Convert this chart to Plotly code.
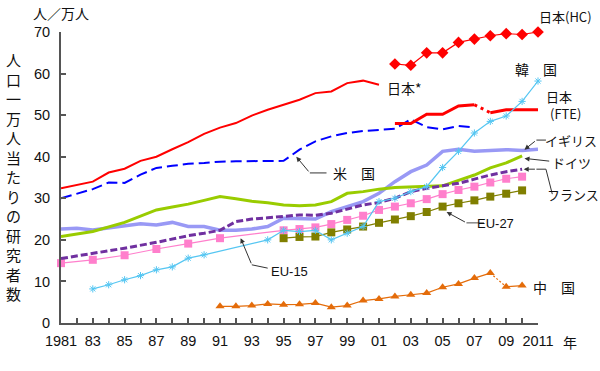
import plotly.graph_objects as go

# ---------------- data ----------------
jp_old_years = [1981, 1983, 1984, 1985, 1986, 1987, 1988, 1989, 1990, 1991, 1992, 1993,
                1994, 1995, 1996, 1997, 1998, 1999, 2000, 2001]
jp_old = [32.4, 34.0, 36.2, 37.1, 39.0, 40.0, 41.8, 43.5, 45.5, 47.0, 48.1, 49.9,
          51.3, 52.5, 53.7, 55.3, 55.7, 57.7, 58.3, 57.3]

jp_hc_years = list(range(2002, 2012))
jp_hc = [62.3, 62.0, 65.0, 65.0, 67.5, 68.3, 69.1, 69.6, 69.4, 70.0]

jp_fte_years = list(range(2002, 2012))
jp_fte = [48.0, 48.0, 50.2, 50.2, 52.2, 52.5, 50.6, 51.3, 51.3, 51.3]
jp_fte_break = 2007   # dotted between 2007 and 2008

us_years = [1981, 1983, 1984, 1985, 1986, 1987, 1988, 1989, 1990, 1991, 1992, 1993, 1994,
            1995, 1996, 1997, 1998, 1999, 2000, 2001, 2002, 2003, 2004, 2005, 2006, 2007]
us = [30.0, 32.2, 33.8, 33.7, 35.7, 37.3, 37.8, 38.3, 38.5, 38.8, 38.9, 38.9, 38.9,
      39.0, 41.7, 43.7, 44.9, 45.7, 46.2, 46.5, 46.7, 49.0, 47.1, 46.6, 47.4, 47.0]

kr_years = [1983, 1984, 1985, 1986, 1987, 1988, 1989, 1990, 1994, 1995, 1996, 1997, 1998,
            1999, 2000, 2001, 2002, 2003, 2004, 2005, 2006, 2007, 2008, 2009, 2010, 2011]
kr = [8.2, 9.2, 10.4, 11.4, 12.8, 13.5, 15.6, 16.4, 20.0, 22.3, 22.0, 22.3, 20.0,
      21.6, 23.2, 29.2, 30.0, 31.6, 32.8, 37.4, 41.3, 45.7, 48.5, 49.8, 53.3, 58.2]

uk_years = list(range(1981, 2012))
uk = [22.6, 22.8, 22.4, 22.9, 23.4, 23.9, 23.6, 24.2, 23.2, 23.2, 22.3, 22.3, 22.6, 23.2,
      25.2, 25.0, 25.0, 26.8, 28.0, 29.2, 31.2, 34.0, 36.4, 38.0, 41.3, 41.8, 41.3, 41.5,
      41.7, 41.5, 41.8]

de_years = [1981, 1983, 1985, 1987, 1988, 1989, 1990, 1991, 1992, 1993, 1994, 1995, 1996,
            1997, 1998, 1999, 2000, 2001, 2002, 2003, 2004, 2005, 2006, 2007, 2008, 2009, 2010]
de = [20.8, 22.0, 24.2, 27.2, 27.9, 28.6, 29.5, 30.4, 29.9, 29.3, 28.9, 28.4, 28.2,
      28.4, 29.2, 31.2, 31.6, 32.2, 32.6, 32.7, 32.8, 33.0, 34.3, 35.6, 37.3, 38.5, 40.2]

fr_years = [1981, 1983, 1985, 1987, 1989, 1990, 1991, 1992, 1993, 1994, 1995, 1996, 1997,
            1998, 1999, 2000, 2001, 2002, 2003, 2004, 2005, 2006, 2007, 2008, 2009, 2010]
fr = [15.5, 16.7, 18.0, 19.4, 21.0, 21.6, 22.3, 24.4, 25.0, 25.3, 25.6, 26.0, 25.9,
      26.4, 27.4, 28.4, 29.0, 30.0, 31.6, 32.4, 33.0, 33.6, 34.6, 35.6, 36.4, 37.0]

eu15_years = [1981, 1983, 1985, 1987, 1989, 1991, 1995, 1996, 1997, 1998, 1999, 2000,
              2001, 2002, 2003, 2004, 2005, 2006, 2007, 2008, 2009, 2010]
eu15 = [14.4, 15.2, 16.3, 17.8, 19.1, 20.4, 22.3, 22.6, 23.0, 23.8, 24.8, 25.8,
        27.2, 28.0, 28.8, 29.8, 31.0, 32.0, 32.8, 33.8, 34.7, 35.2]

eu27_years = list(range(1995, 2011))
eu27 = [20.4, 20.7, 20.8, 21.8, 22.5, 23.2, 24.1, 24.9, 25.7, 26.7, 28.0, 28.8,
        29.5, 30.4, 31.1, 31.9]

cn_years = list(range(1991, 2011))
cn = [4.0, 4.0, 4.2, 4.6, 4.4, 4.5, 4.8, 3.8, 4.2, 5.4, 5.8, 6.4, 6.8, 7.2,
      8.6, 9.4, 10.8, 12.0, 8.7, 9.0]
cn_break = 2008   # dotted between 2008 and 2009

x_tick_years = list(range(1981, 2012))
y_ticks = [0, 10, 20, 30, 40, 50, 60, 70]

# ---------------- styles ----------------
RED = "#FF0000"
BLUE = "#0000FF"
KR_C = "#55C6F2"
UK_C = "#9999F5"
DE_C = "#99CC00"
FR_C = "#7030A0"
PINK = "#FF7FCC"
OLIVE = "#807F00"
CN_C = "#E46C0A"
AX_C = "#555555"
TXT = "#111111"
FONT = "Liberation Sans, Arial, Noto Sans CJK JP, sans-serif"
JFONT = "Noto Sans CJK JP, sans-serif"

W, H = 600, 371
ML, MR, MT, MB = 61, 62, 32, 48
PW, PH = W - ML - MR, H - MT - MB

fig = go.Figure()


def split(years, vals, brk):
    i = years.index(brk)
    return (years[:i + 1], vals[:i + 1]), (years[i:i + 2], vals[i:i + 2]), (years[i + 1:], vals[i + 1:])


# Japan (old definition)
fig.add_trace(go.Scatter(x=jp_old_years, y=jp_old, mode="lines",
                         line=dict(color=RED, width=2), cliponaxis=False))
# US
fig.add_trace(go.Scatter(x=us_years, y=us, mode="lines",
                         line=dict(color=BLUE, width=2, dash="11px,5px"), cliponaxis=False))
# Japan HC
fig.add_trace(go.Scatter(x=jp_hc_years, y=jp_hc, mode="lines+markers",
                         line=dict(color=RED, width=1.2),
                         marker=dict(symbol="diamond", size=9, color=RED), cliponaxis=False))
# Japan FTE
a, b, c = split(jp_fte_years, jp_fte, jp_fte_break)
fig.add_trace(go.Scatter(x=a[0], y=a[1], mode="lines", line=dict(color=RED, width=3),
                         cliponaxis=False))
fig.add_trace(go.Scatter(x=b[0], y=b[1], mode="lines", line=dict(color=RED, width=3, dash="3px,4px"),
                         cliponaxis=False))
fig.add_trace(go.Scatter(x=c[0], y=c[1], mode="lines", line=dict(color=RED, width=3),
                         cliponaxis=False))
# UK
fig.add_trace(go.Scatter(x=uk_years, y=uk, mode="lines", line=dict(color=UK_C, width=3.5),
                         cliponaxis=False))
# Germany
fig.add_trace(go.Scatter(x=de_years, y=de, mode="lines", line=dict(color=DE_C, width=3),
                         cliponaxis=False))
# EU-15
fig.add_trace(go.Scatter(x=eu15_years, y=eu15, mode="lines+markers",
                         line=dict(color=PINK, width=1.2),
                         marker=dict(symbol="square", size=8, color=PINK), cliponaxis=False))
# EU-27
fig.add_trace(go.Scatter(x=eu27_years, y=eu27, mode="lines+markers",
                         line=dict(color=OLIVE, width=1.2),
                         marker=dict(symbol="square", size=8, color=OLIVE), cliponaxis=False))
# France
fig.add_trace(go.Scatter(x=fr_years, y=fr, mode="lines",
                         line=dict(color=FR_C, width=3, dash="7px,3px"), cliponaxis=False))
# Korea
fig.add_trace(go.Scatter(x=kr_years, y=kr, mode="lines+markers",
                         line=dict(color=KR_C, width=1.2),
                         marker=dict(symbol="asterisk-open", size=6,
                                     line=dict(color=KR_C, width=1)), cliponaxis=False))
# China
a, b, c = split(cn_years, cn, cn_break)
cn_marker = dict(symbol="triangle-up", size=8, color=CN_C)
fig.add_trace(go.Scatter(x=a[0], y=a[1], mode="lines+markers", line=dict(color=CN_C, width=1.2),
                         marker=cn_marker, cliponaxis=False))
fig.add_trace(go.Scatter(x=b[0], y=b[1], mode="lines", line=dict(color=CN_C, width=1.2, dash="2px,2px"),
                         cliponaxis=False))
fig.add_trace(go.Scatter(x=c[0], y=c[1], mode="lines+markers", line=dict(color=CN_C, width=1.2),
                         marker=cn_marker, cliponaxis=False))

# ---------------- labels ----------------
X0, X1, Y0, Y1 = 1981, 2011, 0, 70


def P(year, val):
    return (year - X0) / (X1 - X0), (val - Y0) / (Y1 - Y0)


annotations = []


def label(text, year, val, size=14, font=JFONT):
    x, y = P(year, val)
    annotations.append(dict(text=text, x=x, y=y, xref="paper", yref="paper",
                            showarrow=False, xanchor="center", yanchor="middle",
                            font=dict(family=font, size=size, color=TXT)))


label("人／万人", 1981.0, 74.6, 14)
label("日本(HC)", 2012.75, 73.7, 13)
label("韓　国", 2010.9, 61.1, 14)
label("日本", 2012.35, 54.6, 13)
label("(FTE)", 2012.7, 50.3, 13)
label("日本*", 2002.6, 56.6, 14)
label("米　国", 1999.4, 36.1, 14)
label("イギリス", 2013.1, 43.8, 13)
label("ドイツ", 2013.1, 38.5, 13)
label("フランス", 2013.2, 30.9, 13)
label("EU-27", 2008.3, 23.9, 13, FONT)
label("EU-15", 1995.4, 12.3, 13, FONT)
label("中　国", 2012.0, 8.7, 14)
label("年", 2013.0, -4.5, 14)
label("<br>".join(list("人口一万人当たりの研究者数")), 1978.0, 35.2, 15)

shapes = []


def leader(pts, tip, color="#333333", width=1):
    # pts: polyline of (year, val) points; the last point is the arrow tail
    for (y0, v0), (y1, v1) in zip(pts[:-1], pts[1:]):
        xa, ya = P(y0, v0)
        xb, yb = P(y1, v1)
        shapes.append(dict(type="line", xref="paper", yref="paper", x0=xa, y0=ya, x1=xb, y1=yb,
                           line=dict(color=color, width=width)))
    xt, yt = P(*tip)
    xs, ys = P(*pts[-1])
    annotations.append(dict(text="", x=xt, y=yt, xref="paper", yref="paper",
                            ax=(xs - xt) * PW, ay=-(ys - yt) * PH,
                            showarrow=True, arrowhead=2, arrowsize=1, arrowwidth=1,
                            arrowcolor="#333333"))


leader([(1997.7, 36.1), (1996.65, 36.1)], (1995.8, 40.0))
leader([(2011.5, 44.0), (2010.9, 44.0)], (2010.15, 41.7))
leader([(2011.8, 38.9)], (2010.15, 39.6))
leader([(2011.9, 31.0), (2011.5, 37.0), (2010.9, 37.0)], (2010.1, 37.0))
leader([(2007.6, 24.1), (2006.5, 24.1)], (2005.25, 26.7), color="#888888", width=1.5)
leader([(1994.0, 13.2), (1993.0, 14.0)], (1992.3, 20.4))

fig.update_layout(
    width=W, height=H,
    margin=dict(l=ML, r=MR, t=MT, b=MB),
    paper_bgcolor="white", plot_bgcolor="white",
    showlegend=False,
    annotations=annotations, shapes=shapes,
    font=dict(family=FONT, size=14.5, color=TXT),
)
fig.update_xaxes(range=[X0, X1], tickvals=x_tick_years,
                 ticktext=[(str(y) if y in (1981, 2011) else str(y)[-2:]) if (y - 1981) % 2 == 0 else ""
                           for y in x_tick_years],
                 showgrid=False, zeroline=False, showline=True, linecolor=AX_C, linewidth=2,
                 ticks="inside", ticklen=5, tickwidth=1.5, tickcolor=AX_C,
                 tickfont=dict(family=FONT, size=14.5, color=TXT), ticklabelstandoff=4)
fig.update_yaxes(range=[Y0, Y1], tickvals=y_ticks,
                 showgrid=False, zeroline=False, showline=True, linecolor=AX_C, linewidth=2,
                 ticks="inside", ticklen=5, tickwidth=1.5, tickcolor=AX_C,
                 tickfont=dict(family=FONT, size=14.5, color=TXT), ticklabelstandoff=6)

fig.write_html("out.html", config={"displayModeBar": False},
               post_script="document.body.style.margin='0px';")
